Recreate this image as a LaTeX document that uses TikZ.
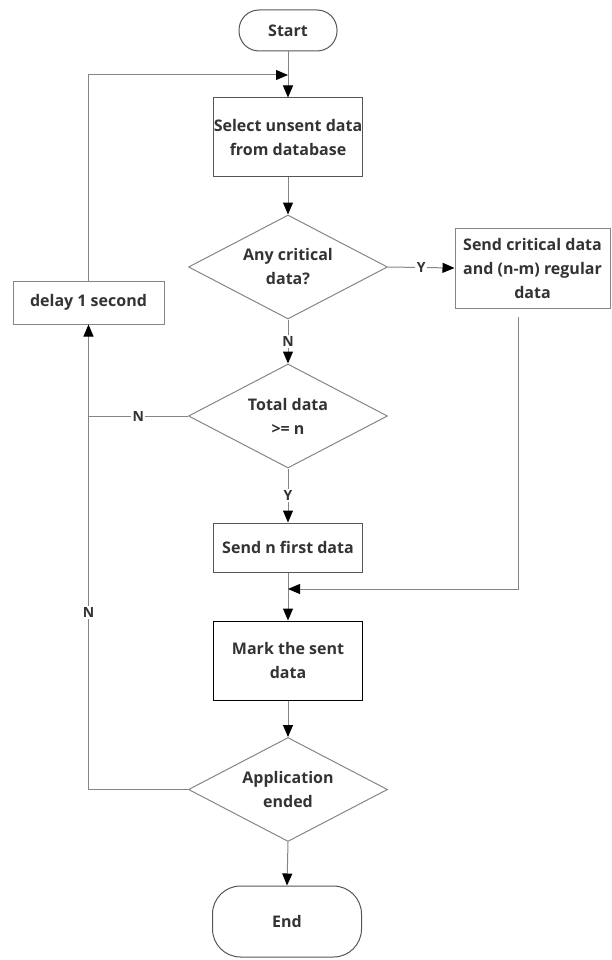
\documentclass[tikz,border=0pt]{standalone}
\usepackage{fontspec}
\setmainfont{Open Sans}
\usetikzlibrary{shapes.geometric,arrows.meta}
\definecolor{txt}{HTML}{333333}
\definecolor{ln}{HTML}{858585}
\definecolor{bd}{HTML}{555555}
\begin{document}
\begin{tikzpicture}[x=1pt,y=-1pt,
  every node/.style={font=\bfseries\fontsize{16}{24}\selectfont, text=txt},
  box/.style={draw=bd, line width=1pt, rectangle, minimum width=149pt, align=center, inner sep=0pt},
  term/.style={draw=bd, line width=1pt, rectangle, align=center, inner sep=0pt},
  dec/.style={draw=ln, line width=1pt, diamond, aspect=1.9, minimum width=199pt, minimum height=104pt, align=center, inner sep=0pt},
  conn/.style={draw=ln, line width=1pt, -{Triangle[length=12pt,width=10pt,color=black]}},
  plain/.style={draw=ln, line width=1pt},
  lbl/.style={fill=white, inner sep=1.5pt, font=\bfseries\fontsize{14}{16}\selectfont}]
\useasboundingbox (0,0) rectangle (611,960);

\node[term, rounded corners=20pt, minimum width=98pt, minimum height=41pt] (start) at (288,30.5) {Start};
\node[box, minimum height=79pt] (sel) at (288,137.5) {Select unsent data\\from database};
\node[dec] (d1) at (288,267) {Any critical\\data?};
\node[box, draw=ln, minimum width=155pt, minimum height=80pt] (crit) at (532.5,268) {Send critical data\\and (n-m) regular\\data};
\node[box, draw=ln, minimum width=151pt, minimum height=43pt] (delay) at (88.5,302.5) {delay 1 second};
\node[dec] (d2) at (288,416) {Total data\\>= n};
\node[box, minimum height=49pt] (sendn) at (288,547.5) {Send n first data};
\node[box, draw=black, minimum height=79pt] (mark) at (288,660.5) {Mark the sent\\data};
\node[dec] (d3) at (288,789.5) {Application\\ended};
\node[term, rounded corners=28pt, minimum width=149pt, minimum height=71pt] (end) at (287,921.5) {End};

\coordinate (j1) at (288,75);
\coordinate (m1) at (288,589);
\coordinate (cs) at (518,317);

\draw[conn] (start.south) -- (sel.north);
\draw[conn] (delay.north) |- (j1);
\draw[conn] (sel.south) -- (d1.north);
\draw[conn] (d1.east) -- node[lbl]{Y} (crit.west);
\draw[conn] (d1.south) -- node[lbl]{N} (d2.north);
\draw[plain] (d2.west) -- node[lbl]{N} (d2.west -| delay.south);
\draw[conn] (d2.south) -- node[lbl]{Y} (sendn.north);
\draw[conn] (sendn.south) -- (mark.north);
\draw[conn] (cs) |- (m1);
\draw[conn] (mark.south) -- (d3.north);
\draw[conn] (d3.west) -| node[lbl, pos=0.69]{N} (delay.south);
\draw[conn] (d3.south) -- (end.north);
\end{tikzpicture}
\end{document}
